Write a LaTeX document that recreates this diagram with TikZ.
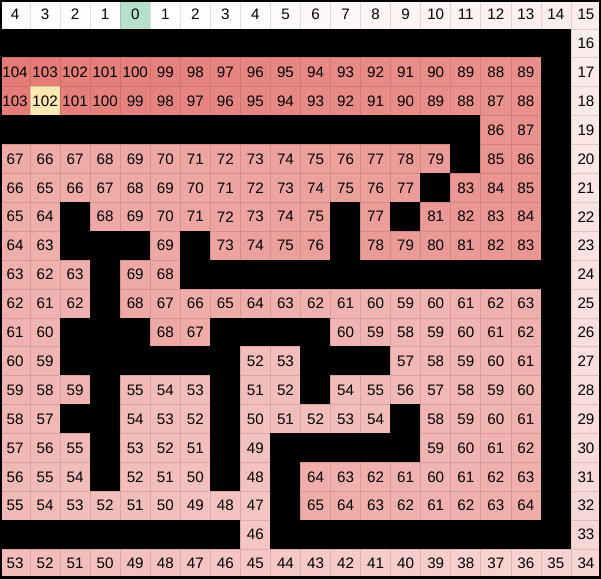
\documentclass[tikz,border=0pt]{standalone}
\usepackage{fontspec}
\setmainfont{Liberation Sans}
\definecolor{cellred}{RGB}{229,123,118}
\definecolor{startgreen}{RGB}{181,224,203}
\definecolor{goalyellow}{RGB}{252,232,176}
\tikzset{
    %Define style for maze cells
    cell/.style={
           rectangle,
           minimum width=8mm,
           minimum height=7.694mm,
           inner sep=0pt,
           line width=0.5pt,
           font=\fontsize{11.5}{12}\selectfont},
    % Define style for outer frame
    frame/.style={
           draw=black,
           line width=3pt}
}

\begin{document}
\begin{tikzpicture}
    \useasboundingbox (0,0) rectangle (16,-15.388);
    % -1 marks a wall
    \foreach \cells [count=\rowno from 0] in {
        {4,3,2,1,0,1,2,3,4,5,6,7,8,9,10,11,12,13,14,15},
        {-1,-1,-1,-1,-1,-1,-1,-1,-1,-1,-1,-1,-1,-1,-1,-1,-1,-1,-1,16},
        {104,103,102,101,100,99,98,97,96,95,94,93,92,91,90,89,88,89,-1,17},
        {103,102,101,100,99,98,97,96,95,94,93,92,91,90,89,88,87,88,-1,18},
        {-1,-1,-1,-1,-1,-1,-1,-1,-1,-1,-1,-1,-1,-1,-1,-1,86,87,-1,19},
        {67,66,67,68,69,70,71,72,73,74,75,76,77,78,79,-1,85,86,-1,20},
        {66,65,66,67,68,69,70,71,72,73,74,75,76,77,-1,83,84,85,-1,21},
        {65,64,-1,68,69,70,71,72,73,74,75,-1,77,-1,81,82,83,84,-1,22},
        {64,63,-1,-1,-1,69,-1,73,74,75,76,-1,78,79,80,81,82,83,-1,23},
        {63,62,63,-1,69,68,-1,-1,-1,-1,-1,-1,-1,-1,-1,-1,-1,-1,-1,24},
        {62,61,62,-1,68,67,66,65,64,63,62,61,60,59,60,61,62,63,-1,25},
        {61,60,-1,-1,-1,68,67,-1,-1,-1,-1,60,59,58,59,60,61,62,-1,26},
        {60,59,-1,-1,-1,-1,-1,-1,52,53,-1,-1,-1,57,58,59,60,61,-1,27},
        {59,58,59,-1,55,54,53,-1,51,52,-1,54,55,56,57,58,59,60,-1,28},
        {58,57,-1,-1,54,53,52,-1,50,51,52,53,54,-1,58,59,60,61,-1,29},
        {57,56,55,-1,53,52,51,-1,49,-1,-1,-1,-1,-1,59,60,61,62,-1,30},
        {56,55,54,-1,52,51,50,-1,48,-1,64,63,62,61,60,61,62,63,-1,31},
        {55,54,53,52,51,50,49,48,47,-1,65,64,63,62,61,62,63,64,-1,32},
        {-1,-1,-1,-1,-1,-1,-1,-1,46,-1,-1,-1,-1,-1,-1,-1,-1,-1,-1,33},
        {53,52,51,50,49,48,47,46,45,44,43,42,41,40,39,38,37,36,35,34}}
    {
        \foreach \v [count=\colno from 0] in \cells {
            \pgfmathtruncatemacro\pct{max(\v,0)*100/104}
            \edef\fillc{cellred!\pct!white}
            \edef\linec{cellred!\pct!white!88!black}
            \ifnum\v<0 \def\fillc{black}\def\linec{black}\fi
            \ifnum\rowno=0 \ifnum\colno=4 \def\fillc{startgreen}\def\linec{startgreen!88!black}\fi\fi
            \ifnum\rowno=3 \ifnum\colno=1 \def\fillc{goalyellow}\def\linec{goalyellow!85!black}\fi\fi
            \node[cell, fill=\fillc, draw=\linec] (n-\rowno-\colno)
                at ({(\colno+0.5)*0.8}, {-(\rowno+0.5)*0.7694}) {\ifnum\v<0 \else\v\fi};
        }
    }
    \draw[frame] (n-0-0.north west) rectangle (n-19-19.south east);
\end{tikzpicture}
\end{document}
